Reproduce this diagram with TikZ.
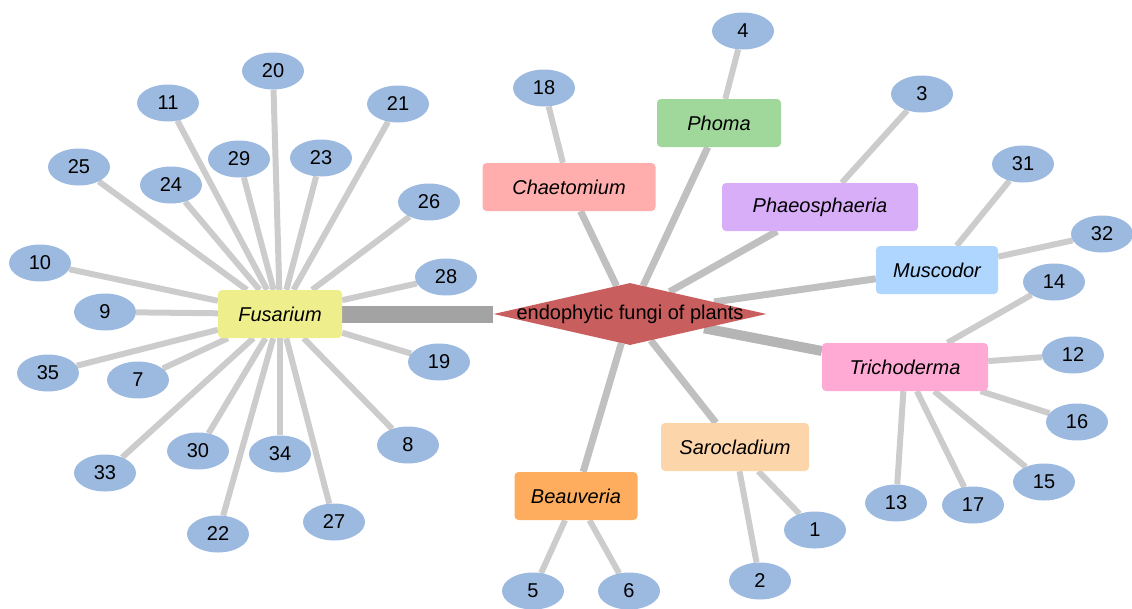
\documentclass[tikz,border=0pt]{standalone}
\usepackage{fontspec}
\setmainfont{Liberation Sans}
\usetikzlibrary{shapes.geometric,backgrounds}

\definecolor{leafblue}{HTML}{9CB9E0}
\definecolor{hubred}{HTML}{C85E5E}
\definecolor{fusyellow}{HTML}{EEEE8C}
\definecolor{trichopink}{HTML}{FFAAD4}
\definecolor{muscoblue}{HTML}{AED6FF}
\definecolor{phaeopurple}{HTML}{D8AEF8}
\definecolor{chaetored}{HTML}{FFADAD}
\definecolor{phomagreen}{HTML}{A0D89C}
\definecolor{saropeach}{HTML}{FDD5AA}
\definecolor{beauorange}{HTML}{FDAD5D}
\definecolor{twiggray}{HTML}{CCCCCC}
\definecolor{branchgray}{HTML}{C0C0C0}

\begin{document}
\begin{tikzpicture}[x=1pt,y=-1pt]
	\tikzstyle{every node}=[font=\fontsize{20}{24}\selectfont]
	\tikzstyle{leaf}=[ellipse, fill=leafblue, minimum width=62pt, minimum height=37pt, inner sep=0pt]
	\tikzstyle{genus}=[rectangle, rounded corners=4pt, minimum height=48pt, inner sep=0pt, font=\fontsize{20}{24}\selectfont\itshape]
	\tikzstyle{hub}=[diamond, fill=hubred, minimum width=273pt, minimum height=62pt, inner sep=0pt]
	\tikzstyle{twig}=[draw=twiggray, line width=6pt]
	\tikzstyle{branch}=[draw=branchgray, line width=7pt]

	\useasboundingbox (0,0) rectangle (1132,608);

	%% hub and genera
	\node [hub] (hub) at (630,314) {};
	\node (hubtext) at (630,314) {endophytic fungi of plants};
	\node [genus, fill=fusyellow, minimum width=124pt] (fus) at (280,314) {Fusarium};
	\node [genus, fill=trichopink, minimum width=166pt] (tri) at (905,367) {Trichoderma};
	\node [genus, fill=muscoblue, minimum width=122pt] (mus) at (937,270) {Muscodor};
	\node [genus, fill=phaeopurple, minimum width=196pt] (pha) at (820,207) {Phaeosphaeria};
	\node [genus, fill=chaetored, minimum width=173pt] (cha) at (569,187) {Chaetomium};
	\node [genus, fill=phomagreen, minimum width=124pt] (pho) at (719,123) {Phoma};
	\node [genus, fill=saropeach, minimum width=148pt] (sar) at (735,447) {Sarocladium};
	\node [genus, fill=beauorange, minimum width=123pt] (bea) at (576,496) {Beauveria};

	%% isolates
	\node [leaf] (n1) at (815,530) {1};
	\node [leaf] (n2) at (760,581) {2};
	\node [leaf] (n3) at (922,94) {3};
	\node [leaf] (n4) at (743,31) {4};
	\node [leaf] (n5) at (533,591) {5};
	\node [leaf] (n6) at (629,591) {6};
	\node [leaf] (n7) at (138,380) {7};
	\node [leaf] (n8) at (408,445) {8};
	\node [leaf] (n9) at (105,312) {9};
	\node [leaf] (n10) at (40,263) {10};
	\node [leaf] (n11) at (168,103) {11};
	\node [leaf] (n12) at (1073,355) {12};
	\node [leaf] (n13) at (896,503) {13};
	\node [leaf] (n14) at (1054,282) {14};
	\node [leaf] (n15) at (1044,482) {15};
	\node [leaf] (n16) at (1077,422) {16};
	\node [leaf] (n17) at (973,505) {17};
	\node [leaf] (n18) at (544,88) {18};
	\node [leaf] (n19) at (439,362) {19};
	\node [leaf] (n20) at (273,71) {20};
	\node [leaf] (n21) at (398,104) {21};
	\node [leaf] (n22) at (218,534) {22};
	\node [leaf] (n23) at (321,158) {23};
	\node [leaf] (n24) at (171,185) {24};
	\node [leaf] (n25) at (79,167) {25};
	\node [leaf] (n26) at (429,202) {26};
	\node [leaf] (n27) at (334,522) {27};
	\node [leaf] (n28) at (446,277) {28};
	\node [leaf] (n29) at (239,159) {29};
	\node [leaf] (n30) at (198,451) {30};
	\node [leaf] (n31) at (1023,164) {31};
	\node [leaf] (n32) at (1102,234) {32};
	\node [leaf] (n33) at (105,473) {33};
	\node [leaf] (n34) at (280,454) {34};
	\node [leaf] (n35) at (48,373) {35};

	\begin{scope}[on background layer]
		%% hub to genera
		\draw [draw=black!36, line width=17pt] (fus) -- (hub);
		\draw [draw=black!29, line width=10pt] (hub) -- (tri);
		\draw [branch] (hub) -- (mus);
		\draw [branch] (hub) -- (pha);
		\draw [branch] (hub) -- (cha);
		\draw [branch] (hub) -- (pho);
		\draw [branch] (hub) -- (sar);
		\draw [branch] (hub) -- (bea);

		%% Fusarium
		\draw [twig] (fus) -- (n7);
		\draw [twig] (fus) -- (n8);
		\draw [twig] (fus) -- (n9);
		\draw [twig] (fus) -- (n10);
		\draw [twig] (fus) -- (n11);
		\draw [twig] (fus) -- (n19);
		\draw [twig] (fus) -- (n20);
		\draw [twig] (fus) -- (n21);
		\draw [twig] (fus) -- (n22);
		\draw [twig] (fus) -- (n23);
		\draw [twig] (fus) -- (n24);
		\draw [twig] (fus) -- (n25);
		\draw [twig] (fus) -- (n26);
		\draw [twig] (fus) -- (n27);
		\draw [twig] (fus) -- (n28);
		\draw [twig] (fus) -- (n29);
		\draw [twig] (fus) -- (n30);
		\draw [twig] (fus) -- (n33);
		\draw [twig] (fus) -- (n34);
		\draw [twig] (fus) -- (n35);

		%% Trichoderma
		\draw [twig] (tri) -- (n12);
		\draw [twig] (tri) -- (n13);
		\draw [twig] (tri) -- (n14);
		\draw [twig] (tri) -- (n15);
		\draw [twig] (tri) -- (n16);
		\draw [twig] (tri) -- (n17);

		%% other genera
		\draw [twig] (mus) -- (n31);
		\draw [twig] (mus) -- (n32);
		\draw [twig] (pha) -- (n3);
		\draw [twig] (pho) -- (n4);
		\draw [twig] (cha) -- (n18);
		\draw [twig] (sar) -- (n1);
		\draw [twig] (sar) -- (n2);
		\draw [twig] (bea) -- (n5);
		\draw [twig] (bea) -- (n6);
	\end{scope}

\end{tikzpicture}
\end{document}
